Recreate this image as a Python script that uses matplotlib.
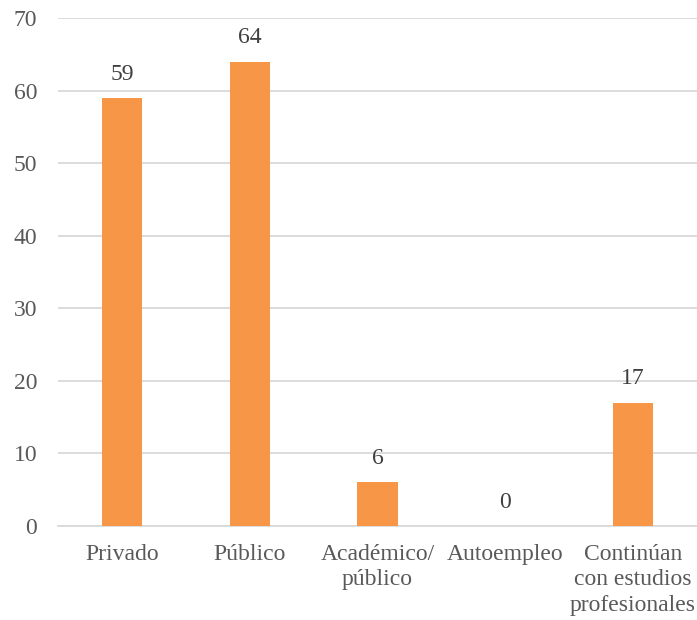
import matplotlib.pyplot as plt

categories = ["Privado", "Público", "Académico/\npúblico", "Autoempleo",
              "Continúan\ncon estudios\nprofesionales"]
values = [59, 64, 6, 0, 17]
yticks = [0, 10, 20, 30, 40, 50, 60, 70]

plt.rcParams['font.family'] = ['Liberation Serif', 'DejaVu Serif']

fig = plt.figure(figsize=(6.97, 6.2), dpi=100)
ax = fig.add_axes([58 / 697, 94 / 620, 1 - 58 / 697, 508 / 620])

x = range(len(categories))
bars = ax.bar(x, values, width=0.315, color="#F79646", zorder=3)

# value labels above bars
for xi, v in zip(x, values):
    ax.text(xi, v + 2.5, str(v), ha="center", va="baseline",
            fontsize=17, color="#404040")

ax.set_xlim(-0.5, len(categories) - 0.5)
ax.set_ylim(0, 70)
ax.set_yticks(yticks)
ax.yaxis.grid(True, color="#D9D9D9", linewidth=1.3, zorder=0)
ax.set_xticks(list(x))
ax.set_xticklabels(categories, fontsize=17, color="#595959", linespacing=1.27)
ax.tick_params(axis="y", labelsize=17, labelcolor="#595959", length=0, pad=15)
ax.tick_params(axis="x", length=0, pad=13)

for side in ["top", "right", "left"]:
    ax.spines[side].set_visible(False)
ax.spines["bottom"].set_color("#D9D9D9")
ax.spines["bottom"].set_linewidth(1.3)

fig.savefig("out.png", dpi=100)
